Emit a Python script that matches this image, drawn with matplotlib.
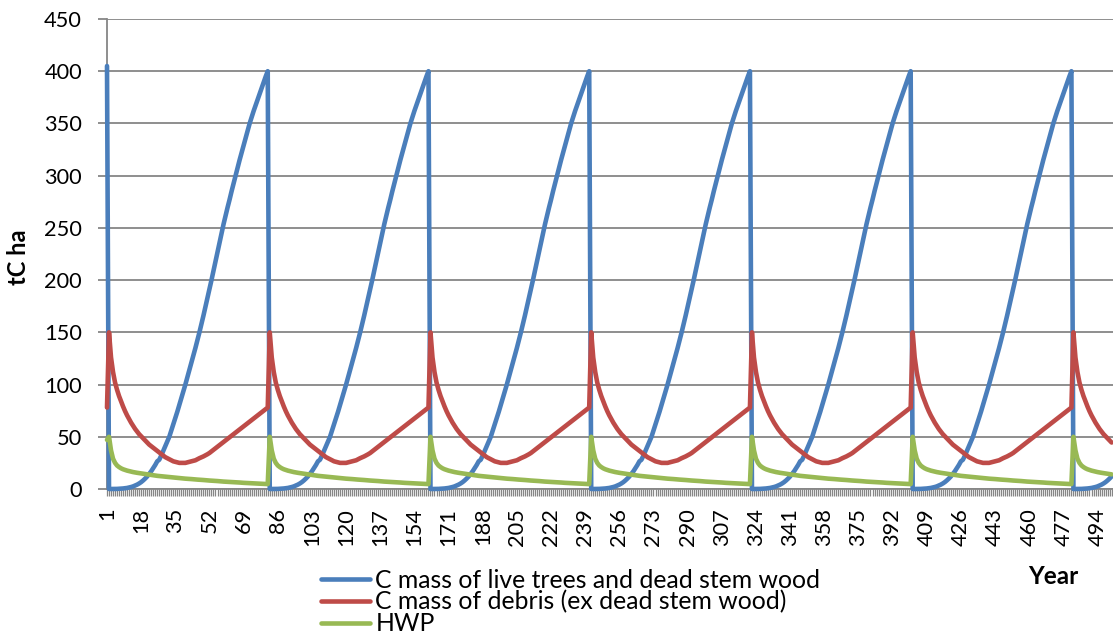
import numpy as np
import matplotlib
matplotlib.use("Agg")
import matplotlib.pyplot as plt
from matplotlib.ticker import FixedLocator, MultipleLocator, NullFormatter
from matplotlib.lines import Line2D

plt.rcParams['font.family'] = ['Lato', 'DejaVu Sans']

# ---- data (one 80-year rotation; the chart repeats it) ----
first_year = {"live": 405.0, "debris": 78.0, "hwp": 47.0}

live_cycle = [0, 0, 0, 0, 0.1, 0.2, 0.3, 0.5, 0.7, 1, 1.4, 1.9, 2.5, 3.3, 4.2, 5.3,
              6.6, 8.2, 10, 12, 14.5, 17, 20, 23, 26.5, 28, 32, 36.5, 41, 45.5,
              50, 56, 62, 68, 74, 80.5, 87, 93.5, 100, 107, 114, 121, 128, 135,
              142.5, 150, 158, 166, 174.5, 183, 191.5, 200, 209, 218, 227, 236,
              245, 253.5, 261.5, 269.5, 277, 285, 292.5, 300, 307.5, 315, 322,
              329, 336, 343, 350, 356, 362, 367.5, 373, 378.5, 384, 389.5, 395, 400]

debris_cycle = [150, 126, 112, 102, 95, 89, 84, 79, 74.5, 70.5, 67, 63.5, 60.5, 57.5,
                55, 52.5, 50.5, 48.5, 46.5, 44.5, 42.5, 41, 39.5, 38, 36.5, 35, 33.5,
                32, 30.5, 29.5, 28.5, 27.5, 26.5, 26, 25.5, 25, 25, 25, 25, 25.5, 26,
                26.5, 27, 27.5, 28.5, 29.5, 30.3, 31.2, 32.2, 33.3, 34.5, 36, 37.5,
                39, 40.5, 42, 43.5, 45, 46.5, 48, 49.5, 51, 52.5, 54, 55.5, 57, 58.5,
                60, 61.5, 63, 64.5, 66, 67.5, 69, 70.5, 72, 73.5, 75, 76.5, 78]

hwp_cycle = [50, 37, 29, 25, 22.5, 21, 19.8, 18.9, 18.2, 17.6, 17.1, 16.6, 16.2, 15.8,
             15.5, 15.2, 14.9, 14.6, 14.3, 14, 13.7, 13.4, 13.1, 12.8, 12.6, 12.4,
             12.2, 12, 11.8, 11.6, 11.4, 11.2, 11, 10.8, 10.6, 10.4, 10.2, 10.1, 9.9,
             9.8, 9.6, 9.5, 9.3, 9.2, 9, 8.9, 8.7, 8.6, 8.4, 8.3, 8.1, 8, 7.8, 7.7,
             7.6, 7.4, 7.3, 7.1, 7, 6.9, 6.8, 6.7, 6.5, 6.4, 6.3, 6.2, 6, 5.9, 5.8,
             5.7, 5.6, 5.5, 5.4, 5.3, 5.2, 5.1, 5, 4.9, 4.8, 4.7]

n_years = 501
years = np.arange(1, n_years + 1)
tick_labels = list(range(1, 495, 17))

series_names = ["C mass of live trees and dead stem wood",
                "C mass of debris (ex dead stem wood)",
                "HWP"]
colors = ["#4A7EBB", "#BE4B48", "#98B954"]


def build(first, cycle):
    reps = int(np.ceil((n_years - 1) / len(cycle)))
    return np.concatenate([[first], np.tile(cycle, reps)[:n_years - 1]])


live = build(first_year["live"], live_cycle)
debris = build(first_year["debris"], debris_cycle)
hwp = build(first_year["hwp"], hwp_cycle)

# ---- figure ----
W, H = 1113, 642
fig = plt.figure(figsize=(W / 100, H / 100), dpi=100)
ax = fig.add_axes([107 / W, 1 - 489 / H, 1 - 107 / W, (489 - 19) / H])

grid_c = "#868686"
ax.set_ylim(0, 450)
ax.set_xlim(1, 501.7)
ax.yaxis.set_major_locator(MultipleLocator(50))
ax.grid(axis="y", color=grid_c, linewidth=1.3)
ax.set_axisbelow(True)

lw = 3.3
for y, c in zip([live, debris, hwp], colors):
    ax.plot(years, y, color=c, linewidth=lw, solid_joinstyle="round",
            solid_capstyle="round", clip_on=False, zorder=3)

for s in ["top", "right"]:
    ax.spines[s].set_visible(False)
for s in ["left", "bottom"]:
    ax.spines[s].set_color(grid_c)
    ax.spines[s].set_linewidth(1.3)

ax.xaxis.set_major_locator(FixedLocator(tick_labels))
ax.xaxis.set_minor_locator(MultipleLocator(1))
ax.xaxis.set_minor_formatter(NullFormatter())
ax.set_xticklabels([str(v) for v in tick_labels], rotation=90)
ax.tick_params(axis="x", which="both", length=5, width=0.9, color=grid_c,
               labelsize=15.7, pad=8.5)
ax.tick_params(axis="y", length=6.5, width=1.3, color=grid_c, labelsize=15.7, pad=11.5)

fig.text(18.5 / W, 1 - 257 / H, "tC ha", rotation=90, ha="center", va="center",
         fontsize=17, fontweight="bold")
fig.text(1053.5 / W, 1 - 577 / H, "Year", ha="center", va="center",
         fontsize=17.5, fontweight="bold")

handles = [Line2D([0], [0], color=c, linewidth=lw, solid_capstyle="round") for c in colors]
fig.legend(handles, series_names, loc="center left",
           bbox_to_anchor=(321 / W, 1 - 602 / H), frameon=False, fontsize=17.8,
           handlelength=2.0, handletextpad=0.2, labelspacing=-0.05, borderpad=0,
           borderaxespad=0)

fig.savefig("out.png", dpi=100)
